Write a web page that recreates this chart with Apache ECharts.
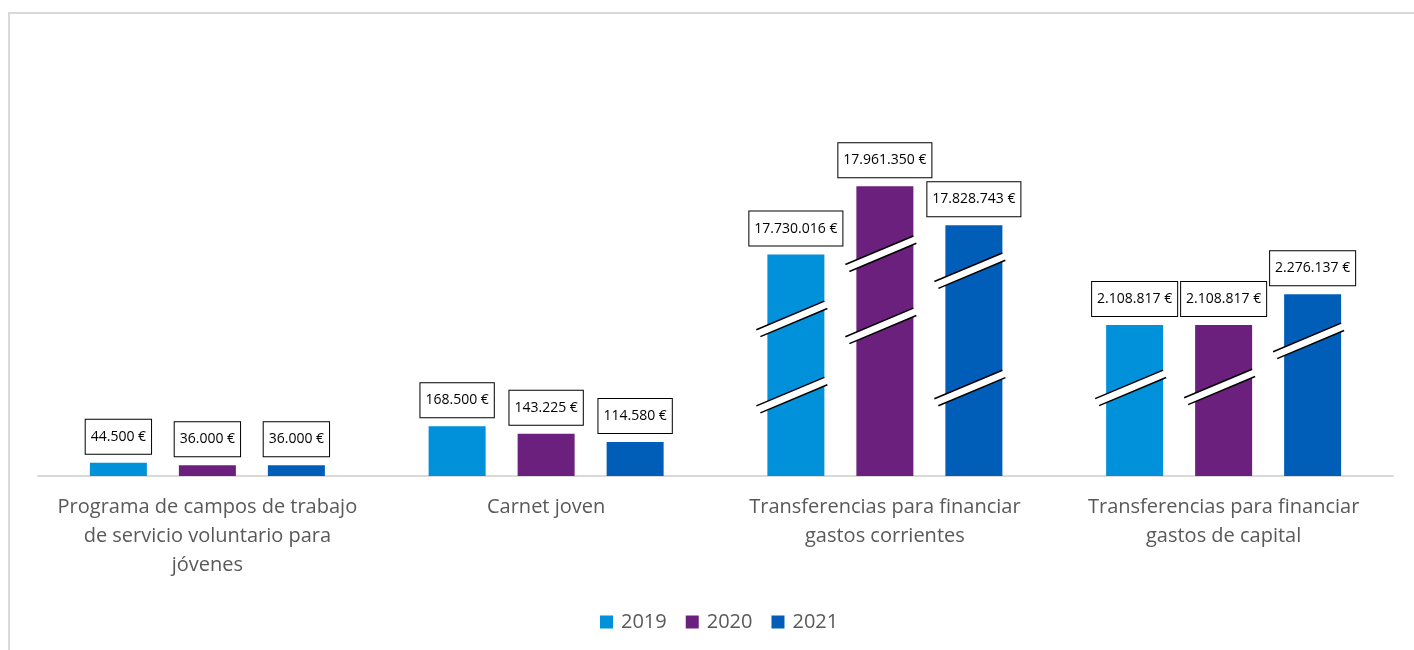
<!DOCTYPE html>
<html>
<head>
<meta charset="utf-8">
<title>Presupuesto juventud</title>
<script src="https://cdn.jsdelivr.net/npm/echarts@6/dist/echarts.min.js"></script>
<style>
  html, body { margin: 0; padding: 0; background: #fff; }
  #chart { width: 1414px; height: 650px; }
  .frame {
    position: absolute; left: 8px; top: 12px; width: 1420px; height: 700px;
    border: 2px solid #d9d9d9; box-sizing: border-box; pointer-events: none;
  }
</style>
</head>
<body>
<div id="chart"></div>
<div class="frame"></div>
<script>
// datos
const categories = [
  'Programa de campos de trabajo\nde servicio voluntario para\njóvenes',
  'Carnet joven',
  'Transferencias para financiar\ngastos corrientes',
  'Transferencias para financiar\ngastos de capital'
];
const years = ['2019', '2020', '2021'];
const values2019 = [44500, 168500, 17730016, 2108817];
const values2020 = [36000, 143225, 17961350, 2108817];
const values2021 = [36000, 114580, 17828743, 2276137];

const seriesValues = [values2019, values2020, values2021];
const colors = ['#0091da', '#6c207e', '#005eb8'];
const FONT = 'Open Sans';
const BAR_W = 57;
const BAR_GAP = 32;

// marcas de corte: [categoria, serie, fraccion de la altura de la barra]
const CUTS = [
  [2, 0, 0.716], [2, 0, 0.372],
  [2, 1, 0.772], [2, 1, 0.523],
  [2, 2, 0.825], [2, 2, 0.357],
  [3, 0, 0.594], [3, 1, 0.6], [3, 2, 0.751]
];

function fmt(v) {
  return String(v).replace(/\B(?=(\d{3})+(?!\d))/g, '.') + ' €';
}

function renderCut(params, api) {
  const cat = api.value(0);
  const s = api.value(1);
  const f = api.value(2);
  const base = api.coord([cat, 0]);
  const top = api.coord([cat, seriesValues[s][cat]]);
  const cx = base[0] + (s - 1) * (BAR_W + BAR_GAP);
  const xL = cx - BAR_W / 2;
  const xR = cx + BAR_W / 2;
  const yc = base[1] - f * (base[1] - top[1]);
  const k = 0.42;
  const h = 4.3;
  const yAt = (x, d) => yc + d + k * (cx - x);
  const p1 = [xL - 11, yAt(xL - 11, -h)];
  const p2 = [xR, yAt(xR, -h)];
  const p3 = [xR + 3, yAt(xR + 3, h)];
  const p4 = [xL - 7, yAt(xL - 7, h)];
  return {
    type: 'group',
    children: [
      { type: 'polygon', shape: { points: [p1, p2, p3, p4] }, style: { fill: '#fff' } },
      { type: 'line', shape: { x1: p1[0], y1: p1[1], x2: p2[0], y2: p2[1] }, style: { stroke: '#000', lineWidth: 1.5 } },
      { type: 'line', shape: { x1: p4[0], y1: p4[1], x2: p3[0], y2: p3[1] }, style: { stroke: '#000', lineWidth: 1.5 } }
    ]
  };
}

const chart = echarts.init(document.getElementById('chart'));

const barSeries = years.map((y, i) => ({
  name: y,
  type: 'bar',
  data: seriesValues[i],
  barWidth: BAR_W,
  barGap: (BAR_GAP / BAR_W * 100) + '%',
  itemStyle: { color: colors[i] },
  z: 2,
  label: {
    show: true,
    position: 'top',
    distance: 9,
    formatter: p => fmt(p.value),
    color: '#000',
    fontFamily: FONT,
    fontSize: 14,
    lineHeight: 16,
    backgroundColor: '#fff',
    borderColor: '#000',
    borderWidth: 1,
    padding: [9, 5]
  }
}));

chart.setOption({
  animation: false,
  color: colors,
  grid: { left: 38, right: 21, top: 86, bottom: 174 },
  legend: {
    data: years,
    left: 595,
    top: 607,
    icon: 'rect',
    itemWidth: 13,
    itemHeight: 13,
    itemGap: 19,
    textStyle: { fontFamily: FONT, fontSize: 20, color: '#595959', padding: [0, 0, 0, 3] }
  },
  xAxis: {
    type: 'category',
    data: categories,
    axisLine: { lineStyle: { color: '#d9d9d9', width: 2 } },
    axisTick: { show: false },
    axisLabel: {
      interval: 0,
      margin: 17,
      fontFamily: FONT,
      fontSize: 20,
      lineHeight: 29,
      color: '#595959'
    }
  },
  yAxis: {
    type: 'value',
    show: false,
    min: 0,
    max: 18300000,
    splitLine: { show: false },
    // eje cortado
    breaks: [
      { start: 200000, end: 2000000, gap: 201400 },
      { start: 2150000, end: 2250000, gap: 37400 },
      { start: 2300000, end: 17700000, gap: 80000 }
    ],
    breakArea: { show: false }
  },
  series: [
    ...barSeries,
    {
      type: 'custom',
      name: 'cortes',
      silent: true,
      z: 3,
      renderItem: renderCut,
      data: CUTS
    }
  ]
});
</script>
</body>
</html>
